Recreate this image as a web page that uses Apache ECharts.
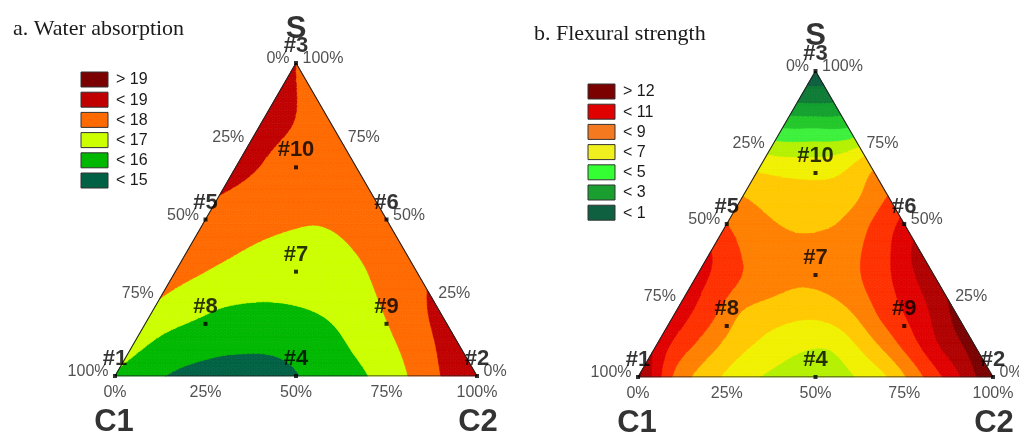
<!DOCTYPE html>
<html><head><meta charset="utf-8">
<script src="https://cdn.jsdelivr.net/npm/echarts/dist/echarts.min.js"></script>
<style>html,body{margin:0;padding:0;background:#fff}#main{width:1019px;height:438px}</style>
</head><body><div id="main"></div>
<script>
// ================= DATA =================
const titleA = 'a. Water absorption';
const titleB = 'b. Flexural strength';
const vertexNames = ['C1', 'C2', 'S'];
const designLabels = ['#1','#2','#3','#4','#5','#6','#7','#8','#9','#10'];
const designC1 = [1, 0, 0, 0.5, 0.5, 0, 1/3, 2/3, 1/6, 1/6];
const designC2 = [0, 1, 0, 0.5, 0, 0.5, 1/3, 1/6, 2/3, 1/6];
const designS  = [0, 0, 1, 0, 0.5, 0.5, 1/3, 1/6, 1/6, 2/3];
const tickFractions = [0, 0.25, 0.5, 0.75, 1];
const tickLabels = ['0%', '25%', '50%', '75%', '100%'];

// response on a simplex grid: row k = S level k/10, entry j = C2 level j/10
const waterGrid = [
  [15.9, 15.2, 14.8, 14.55, 14.6, 14.95, 15.5, 16.0, 16.9, 18.0, 18.95],
  [16.3, 15.6, 15.35, 15.2, 15.2, 15.45, 16.05, 16.75, 17.65, 18.6],
  [16.8, 16.25, 15.85, 15.75, 15.85, 16.15, 16.7, 17.45, 18.3],
  [17.2, 16.8, 16.5, 16.4, 16.5, 16.7, 17.25, 17.9],
  [17.5, 17.15, 16.9, 16.8, 16.85, 17.15, 17.6],
  [17.7, 17.35, 17.15, 17.05, 17.2, 17.6],
  [18.1, 17.65, 17.45, 17.4, 17.55],
  [18.5, 17.8, 17.6, 17.6],
  [18.55, 17.95, 17.7],
  [18.3, 17.8],
  [18.0]
];
const flexGrid = [
  [12.3, 8.9, 7.4, 6.3, 5.7, 5.4, 5.9, 6.95, 8.9, 10.8, 13.0],
  [10.8, 9.05, 7.7, 6.8, 6.2, 6.15, 7.5, 9.2, 11.0, 12.5],
  [10.6, 9.3, 7.75, 7.3, 7.15, 7.85, 9.35, 10.6, 12.3],
  [10.4, 9.3, 8.5, 8.05, 8.3, 9.15, 10.4, 11.8],
  [10.1, 8.9, 8.5, 8.4, 8.75, 9.8, 11.5],
  [9.0, 8.2, 7.8, 7.95, 8.95, 10.3],
  [7.9, 7.5, 7.35, 7.6, 8.9],
  [6.5, 6.3, 6.4, 7.6],
  [4.3, 4.3, 4.4],
  [1.9, 1.9],
  [0.3]
];

// contour levels and band colours (lowest band first)
const waterLevels = [15, 16, 17, 18, 19];
const waterColors = ['#006144', '#00b800', '#ccff00', '#ff6a00', '#c00000', '#7b0000'];
const flexLevels = [1, 2, 3, 4, 5, 6, 7, 8, 9, 10, 11, 12];
const flexColors = ['#0b5e3e', '#0e7b35', '#13a02e', '#22c72a', '#3cf03c', '#b4f000', '#f0f000',
                    '#ffc800', '#ff8000', '#ff3000', '#e00000', '#b00000', '#7b0000'];

// legends
const legendLabelsA = ['> 19', '< 19', '< 18', '< 17', '< 16', '< 15'];
const legendColorsA = ['#7b0000', '#c00000', '#ff6a00', '#ccff00', '#00b800', '#006144'];
const legendLabelsB = ['> 12', '< 11', '< 9', '< 7', '< 5', '< 3', '< 1'];
const legendColorsB = ['#7b0000', '#e00000', '#f57a1f', '#f0f01e', '#33ff33', '#1a9e30', '#0f6040'];

// ================= HELPERS =================
const SQ3 = Math.sqrt(3) / 2;
const FONT = "'Liberation Sans', Arial, sans-serif";
function toXY(c2, s) { return [c2 + s / 2, s]; }

function solve(A, b) {
  const n = b.length;
  for (let c = 0; c < n; c++) {
    let p = c;
    for (let r = c + 1; r < n; r++) if (Math.abs(A[r][c]) > Math.abs(A[p][c])) p = r;
    [A[c], A[p]] = [A[p], A[c]]; [b[c], b[p]] = [b[p], b[c]];
    for (let r = c + 1; r < n; r++) {
      const f = A[r][c] / A[c][c];
      if (!f) continue;
      for (let k = c; k < n; k++) A[r][k] -= f * A[c][k];
      b[r] -= f * b[c];
    }
  }
  const x = new Array(n).fill(0);
  for (let r = n - 1; r >= 0; r--) {
    let s = b[r];
    for (let k = r + 1; k < n; k++) s -= A[r][k] * x[k];
    x[r] = s / A[r][r];
  }
  return x;
}
const phi = r => r > 1e-12 ? r * r * Math.log(r) : 0;

function fitSurface(grid, lambda) {
  const n = grid.length - 1;
  const pts = [], vals = [];
  for (let k = 0; k <= n; k++) for (let j = 0; j <= n - k; j++) {
    const p = toXY(j / n, k / n);
    pts.push([p[0], p[1] * SQ3]); vals.push(grid[k][j]);
  }
  const m = pts.length, N = m + 3;
  const A = [], b = [];
  for (let i = 0; i < N; i++) { A.push(new Array(N).fill(0)); b.push(0); }
  for (let i = 0; i < m; i++) {
    for (let j = 0; j < m; j++) {
      A[i][j] = phi(Math.hypot(pts[i][0] - pts[j][0], pts[i][1] - pts[j][1])) + (i === j ? lambda : 0);
    }
    A[i][m] = 1; A[i][m + 1] = pts[i][0]; A[i][m + 2] = pts[i][1];
    A[m][i] = 1; A[m + 1][i] = pts[i][0]; A[m + 2][i] = pts[i][1];
    b[i] = vals[i];
  }
  const w = solve(A, b);
  return function (x, y) {
    let s = w[m] + w[m + 1] * x + w[m + 2] * y;
    for (let i = 0; i < m; i++) s += w[i] * phi(Math.hypot(x - pts[i][0], y - pts[i][1]));
    return s;
  };
}

function buildMesh(M, f) {
  const vx = [], vy = [], ids = [];
  for (let k = 0; k <= M; k++) {
    ids[k] = [];
    for (let i = 0; i <= M - k; i++) {
      ids[k][i] = vx.length;
      const p = toXY(i / M, k / M);
      vx.push(p[0]); vy.push(p[1]);
    }
  }
  const tris = [];
  for (let k = 0; k < M; k++) for (let i = 0; i < M - k; i++) {
    tris.push([ids[k][i], ids[k][i + 1], ids[k + 1][i]]);
    if (i <= M - k - 2) tris.push([ids[k][i + 1], ids[k + 1][i + 1], ids[k + 1][i]]);
  }
  const vals = vx.map((x, m) => f(x, vy[m] * SQ3));
  return { vx, vy, tris, vals };
}

function clip(poly, level, above) {
  const out = [];
  for (let i = 0; i < poly.length; i++) {
    const a = poly[i], b = poly[(i + 1) % poly.length];
    const ina = above ? a[2] >= level : a[2] <= level;
    const inb = above ? b[2] >= level : b[2] <= level;
    if (ina) out.push(a);
    if (ina !== inb) {
      const t = (level - a[2]) / (b[2] - a[2]);
      out.push([a[0] + t * (b[0] - a[0]), a[1] + t * (b[1] - a[1]), level]);
    }
  }
  return out;
}

function contourSeries(mesh, levels, colors, gi) {
  const bandOf = v => { let b = 0; while (b < levels.length && v >= levels[b]) b++; return b; };
  const data = mesh.tris.map((t, i) => [
    (mesh.vx[t[0]] + mesh.vx[t[1]] + mesh.vx[t[2]]) / 3,
    (mesh.vy[t[0]] + mesh.vy[t[1]] + mesh.vy[t[2]]) / 3, i]);
  return {
    type: 'custom', xAxisIndex: gi, yAxisIndex: gi, data, encode: { x: 0, y: 1 },
    silent: true, animation: false, progressive: 0, z: 1,
    renderItem: function (params, api) {
      const t = mesh.tris[api.value(2)];
      const poly = t.map(v => [mesh.vx[v], mesh.vy[v], mesh.vals[v]]);
      const bs = poly.map(p => bandOf(p[2]));
      const b0 = Math.min.apply(null, bs), b1 = Math.max.apply(null, bs);
      const children = [];
      for (let b = b0; b <= b1; b++) {
        let p = poly;
        if (b > 0 && b !== b0) p = clip(p, levels[b - 1], true);
        if (p.length >= 3 && b < levels.length && b !== b1) p = clip(p, levels[b], false);
        if (p.length >= 3) children.push({
          type: 'polygon',
          shape: { points: p.map(q => api.coord([q[0], q[1]])) },
          style: { fill: colors[b], stroke: colors[b], lineWidth: 0.7 }
        });
      }
      return { type: 'group', children };
    }
  };
}

function outlineSeries(gi) {
  const corners = [[0, 0], [1, 0], [0, 1], [0, 0]]; // (C2, S)
  return {
    type: 'line', xAxisIndex: gi, yAxisIndex: gi, z: 5, silent: true, animation: false,
    data: corners.map(c => toXY(c[0], c[1])), symbol: 'none',
    lineStyle: { color: '#222', width: 1.1 }
  };
}

function designSeries(gi) {
  return {
    type: 'scatter', xAxisIndex: gi, yAxisIndex: gi, z: 8, silent: true, animation: false,
    symbol: 'rect', symbolSize: 4, itemStyle: { color: '#000' },
    data: designLabels.map((l, i) => ({ value: toXY(designC2[i], designS[i]), name: l })),
    label: { show: true, position: 'top', distance: 4, formatter: p => p.name,
      fontFamily: FONT, fontWeight: 'bold', fontSize: 22, color: '#000' }
  };
}

function tickSeries(gi) {
  const data = [];
  const lbl = { fontFamily: FONT, fontSize: 16, color: '#262626' };
  tickFractions.forEach((f, i) => {
    // left edge: C1 share (100% at C1 corner)
    data.push({ value: toXY(0, 1 - f), label: Object.assign({ show: true, position: 'left', distance: 6, offset: [0, -4], formatter: tickLabels[i] }, lbl) });
    // right edge: S share
    data.push({ value: toXY(1 - f, f), label: Object.assign({ show: true, position: 'right', distance: 6, offset: [0, -4], formatter: tickLabels[i] }, lbl) });
    // bottom edge: C2 share
    data.push({ value: toXY(f, 0), label: Object.assign({ show: true, position: 'bottom', distance: 8, formatter: tickLabels[i] }, lbl) });
  });
  return {
    type: 'scatter', xAxisIndex: gi, yAxisIndex: gi, z: 6, silent: true, animation: false,
    symbolSize: 1, itemStyle: { color: 'rgba(0,0,0,0)' }, data
  };
}

function vertexSeries(gi, topOff) {
  const pos = [[0, 0], [1, 0], [0, 1]]; // C1, C2, S corners as (C2, S)
  const offs = [[-1, 46], [1, 46], [0, topOff]];
  return {
    type: 'scatter', xAxisIndex: gi, yAxisIndex: gi, z: 7, silent: true, animation: false,
    symbolSize: 1, itemStyle: { color: 'rgba(0,0,0,0)' },
    data: vertexNames.map((n, i) => ({ value: toXY(pos[i][0], pos[i][1]),
      label: { show: true, position: 'inside', offset: offs[i], formatter: n,
        fontFamily: FONT, fontWeight: 'bold', fontSize: 31, color: '#000' } }))
  };
}

function legendGraphic(x, y, labels, colors) {
  const ch = [];
  labels.forEach((l, i) => {
    ch.push({ type: 'rect', shape: { x: x, y: y + i * 20.2, width: 27, height: 15 },
      style: { fill: colors[i], stroke: '#333', lineWidth: 1 } });
    ch.push({ type: 'text', x: x + 35, y: y + i * 20.2 + 8,
      style: { text: l, fill: '#1a1a1a', font: '16px ' + FONT, textVerticalAlign: 'middle', verticalAlign: 'middle' } });
  });
  return { type: 'group', children: ch, silent: true };
}

// ================= BUILD =================
const meshA = buildMesh(72, fitSurface(waterGrid, 0.0002));
const meshB = buildMesh(72, fitSurface(flexGrid, 0.0002));

const chart = echarts.init(document.getElementById('main'), null, { renderer: 'canvas' });
chart.setOption({
  animation: false,
  backgroundColor: '#fff',
  title: [
    { text: titleA, left: 8, top: 13, textStyle: { fontFamily: "'Liberation Serif', 'Times New Roman', serif", fontWeight: 'normal', fontSize: 22, color: '#1a1a1a' } },
    { text: titleB, left: 529, top: 18, textStyle: { fontFamily: "'Liberation Serif', 'Times New Roman', serif", fontWeight: 'normal', fontSize: 22, color: '#1a1a1a' } }
  ],
  grid: [
    { left: 115, top: 63, width: 362, height: 313 },
    { left: 638, top: 71, width: 355, height: 306 }
  ],
  xAxis: [
    { gridIndex: 0, type: 'value', min: 0, max: 1, show: false },
    { gridIndex: 1, type: 'value', min: 0, max: 1, show: false }
  ],
  yAxis: [
    { gridIndex: 0, type: 'value', min: 0, max: 1, show: false },
    { gridIndex: 1, type: 'value', min: 0, max: 1, show: false }
  ],
  graphic: [
    legendGraphic(81, 72, legendLabelsA, legendColorsA),
    legendGraphic(588, 84, legendLabelsB, legendColorsB)
  ],
  series: [
    contourSeries(meshA, waterLevels, waterColors, 0),
    contourSeries(meshB, flexLevels, flexColors, 1),
    outlineSeries(0), outlineSeries(1),
    tickSeries(0), tickSeries(1),
    designSeries(0), designSeries(1),
    vertexSeries(0, -34), vertexSeries(1, -35)
  ]
});
</script>
</body></html>
